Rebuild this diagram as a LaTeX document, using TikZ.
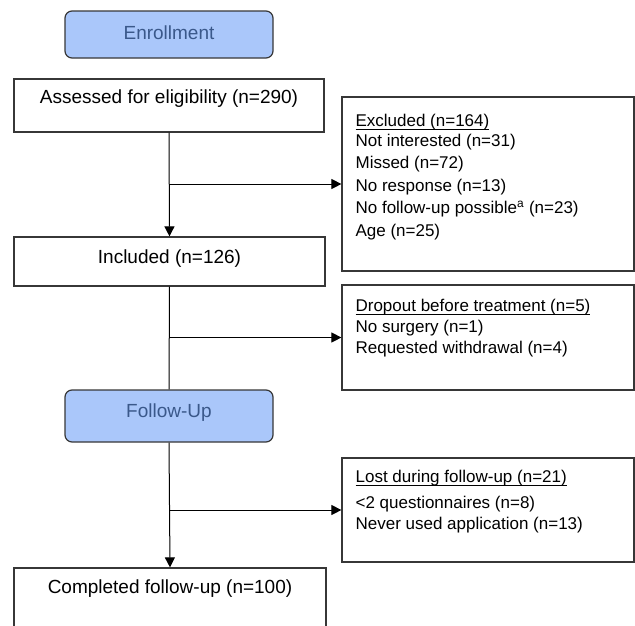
\documentclass[tikz,border=0pt]{standalone}
\usepackage{fontspec}
\setmainfont{Liberation Sans}
\usetikzlibrary{arrows.meta}
\definecolor{boxgray}{RGB}{55,55,55}
\definecolor{phaseblue}{RGB}{170,199,250}
\definecolor{phasetext}{RGB}{58,88,138}
\newsavebox\ulsavebox
\newcommand{\myul}[1]{\sbox\ulsavebox{#1}\rlap{\rule[-4pt]{\wd\ulsavebox}{1.5pt}}\usebox\ulsavebox}
\newcommand{\mainfnt}{\fontsize{19}{23}\selectfont}
\newcommand{\sidefnt}{\fontsize{17}{21}\selectfont}
\begin{document}
\begin{tikzpicture}[x=1pt,y=-1pt,
  mainbox/.style={draw=boxgray, line width=1.2pt, inner sep=0pt, font=\mainfnt, text=black},
  phasebox/.style={mainbox, fill=phaseblue, rounded corners=7pt, text=phasetext},
  sidebox/.style={draw=boxgray, line width=1.2pt, inner sep=0pt, minimum width=292pt},
  sidetext/.style={anchor=base west, align=left, inner sep=0pt, font=\sidefnt},
  flow/.style={draw=black, line width=1pt},
  arrowline/.style={flow, -{Triangle[length=10pt,width=10pt]}}]
\useasboundingbox (0,0) rectangle (635,625);
\clip (0,0) rectangle (635,625);
% phase boxes
\node[phasebox, minimum width=208pt, text height=28pt, text depth=19pt] (enroll) at (169,34.5) {Enrollment};
\node[phasebox, minimum width=208pt, text height=27pt, text depth=25pt] (follow) at (169,416) {Follow-Up};
% main boxes
\node[mainbox, minimum width=310pt, text height=24pt, text depth=29pt] (assess) at (169,105.5) {Assessed for eligibility (n=290)};
\node[mainbox, minimum width=311pt, text height=26pt, text depth=23pt] (incl) at (169.5,261.5) {Included (n=126)};
\node[mainbox, minimum width=312pt, text height=25pt, text depth=45pt] (compl) at (170,603) {Completed follow-up (n=100)};
% side boxes
\node[sidebox, minimum height=174pt] (excl) at (488,184) {};
\node[sidebox, minimum height=105pt] (drop) at (488,337.5) {};
\node[sidebox, minimum height=104pt] (lost) at (488,510) {};
% multi-line text: base anchor is the last line's baseline
\node[sidetext, font=\fontsize{17}{22.5}\selectfont] (excltext) at ([shift={(14,140)}]excl.north west)
  {\myul{Excluded (n=164)}\\[-2.5pt]
   Not interested (n=31)\\
   Missed (n=72)\\
   No response (n=13)\\
   No follow-up possible\textsuperscript{a} (n=23)\\
   Age (n=25)};
\node[sidetext] (droptext) at ([shift={(14,69)}]drop.north west)
  {\myul{Dropout before treatment (n=5)}\\
   No surgery (n=1)\\
   Requested withdrawal (n=4)};
\node[sidetext] (losttext) at ([shift={(14,72)}]lost.north west)
  {\myul{Lost during follow-up (n=21)}\\[5pt]
   <2 questionnaires (n=8)\\
   Never used application (n=13)};
% connectors
\draw[arrowline] (assess.south) -- (incl.north);
\draw[flow] (incl.south) -- (follow.north);
\draw[arrowline] (follow.south) -- (compl.north);
\draw[arrowline] (assess.south |- excl.west) -- (excl.west);
\draw[arrowline] (incl.south |- drop.west) -- (drop.west);
\draw[arrowline] (follow.south |- lost.west) -- (lost.west);
\end{tikzpicture}
\end{document}
